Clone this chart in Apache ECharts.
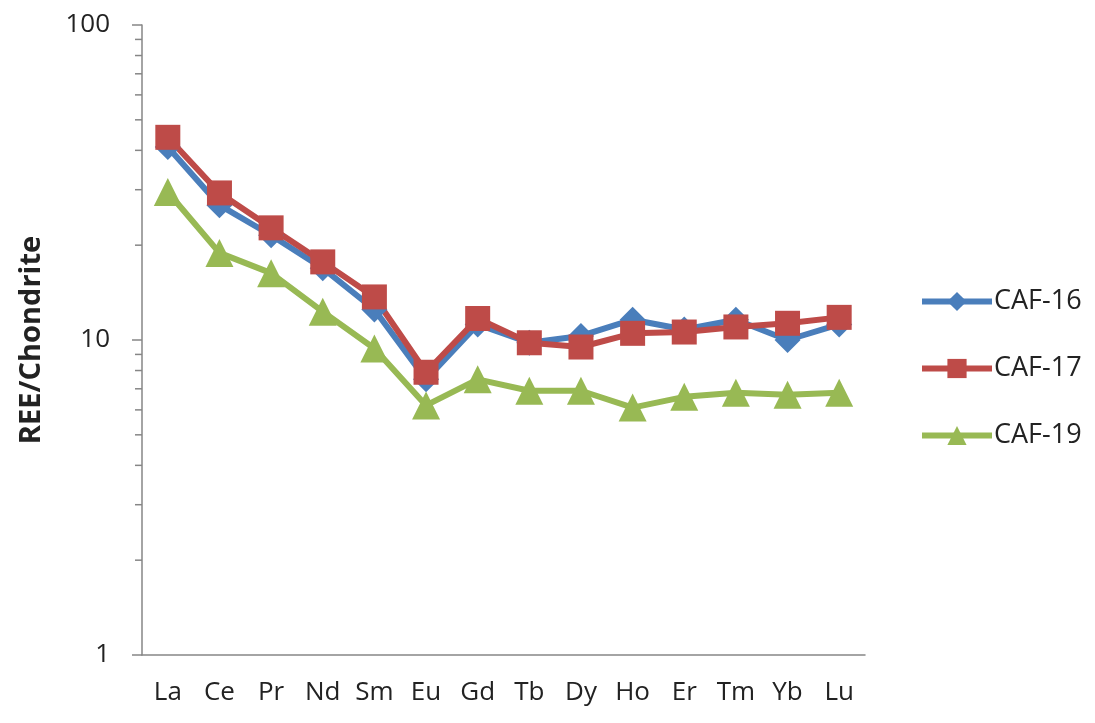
<!DOCTYPE html>
<html>
<head>
<meta charset="utf-8">
<script src="https://cdn.jsdelivr.net/npm/echarts@6/dist/echarts.min.js"></script>
<style>
  html, body { margin: 0; padding: 0; background: #fff; }
  #chart { width: 1095px; height: 723px; }
</style>
</head>
<body>
<div id="chart"></div>
<script>
// REE pattern, chondrite normalised
const elements = ['La', 'Ce', 'Pr', 'Nd', 'Sm', 'Eu', 'Gd', 'Tb', 'Dy', 'Ho', 'Er', 'Tm', 'Yb', 'Lu']
const caf16 = [41, 26.8, 21.5, 16.9, 12.5, 7.5, 11.2, 9.8, 10.3, 11.6, 10.8, 11.6, 10.0, 11.2]
const caf17 = [44, 29.3, 22.7, 17.7, 13.7, 7.9, 11.7, 9.8, 9.5, 10.5, 10.6, 11.0, 11.3, 11.8]
const caf19 = [29.5, 18.9, 16.3, 12.3, 9.4, 6.2, 7.5, 6.9, 6.9, 6.1, 6.6, 6.8, 6.7, 6.8]
// minor tick positions on the log axis
const minorTicks = [2, 3, 4, 5, 6, 7, 8, 9, 20, 30, 40, 50, 60, 70, 80, 90]

const font = 'Open Sans, Liberation Sans, sans-serif'
const axisGrey = '#868686'

const chart = echarts.init(document.getElementById('chart'))

const lineSeries = (name, data, color, symbol, size) => ({
  name,
  type: 'line',
  data,
  symbol,
  symbolSize: size,
  lineStyle: { width: 6, color },
  itemStyle: { color },
  z: 3
})

chart.setOption({
  animation: false,
  grid: { left: 142, right: 230, top: 25, bottom: 68 },
  legend: {
    orient: 'vertical',
    left: 914,
    top: 283,
    itemWidth: 70,
    itemHeight: 24,
    itemGap: 40,
    lineStyle: { width: 6 },
    textStyle: { fontFamily: font, fontSize: 27, color: '#222', padding: [0, 0, 0, -3] },
    data: ['CAF-16', 'CAF-17', 'CAF-19']
  },
  xAxis: {
    type: 'category',
    data: elements,
    boundaryGap: true,
    axisLine: { lineStyle: { color: axisGrey, width: 1.5 } },
    axisTick: { length: 9, lineStyle: { color: axisGrey, width: 1.5 } },
    axisLabel: { fontFamily: font, fontSize: 26, color: '#222', margin: 25 }
  },
  yAxis: {
    type: 'log',
    logBase: 10,
    min: 1,
    max: 100,
    name: 'REE/Chondrite',
    nameLocation: 'middle',
    nameGap: 96,
    nameTextStyle: { fontFamily: font, fontSize: 29, fontWeight: 'bold', color: '#222' },
    splitLine: { show: false },
    axisLine: { show: true, lineStyle: { color: axisGrey, width: 1.5 } },
    axisTick: { show: true, length: 10, lineStyle: { color: axisGrey, width: 1.5 } },
    axisLabel: { fontFamily: font, fontSize: 26, color: '#222', margin: 32 }
  },
  series: [
    lineSeries('CAF-16', caf16, '#4A7EBB', 'diamond', 26),
    lineSeries('CAF-17', caf17, '#BE4B48', 'rect', 25),
    lineSeries('CAF-19', caf19, '#98B954', 'triangle', 28),
    {
      type: 'custom',
      silent: true,
      clip: false,
      data: minorTicks,
      encode: { y: 0 },
      renderItem (params, api) {
        const p = api.coord([0, api.value(0)])
        const half = api.size([1, 0])[0] / 2
        const x = p[0] - half
        return {
          type: 'line',
          shape: { x1: x - 7, y1: p[1], x2: x, y2: p[1] },
          style: { stroke: axisGrey, lineWidth: 1.5 }
        }
      }
    }
  ]
})
</script>
</body>
</html>
